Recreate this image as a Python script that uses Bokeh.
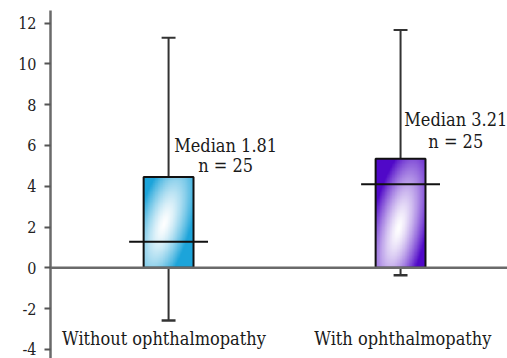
import numpy as np
from bokeh.plotting import figure
from bokeh.models import Span, FixedTicker, ColumnDataSource
from bokeh.core.properties import value
from bokeh.embed import file_html
from bokeh.resources import INLINE

# ---- data ----
groups = ["Without ophthalmopathy", "With ophthalmopathy"]
group_x = [1, 2]
lower_whisker = [-2.58, -0.37]
q1 = [0.0, 0.0]
median = [1.28, 4.10]
q3 = [4.45, 5.35]
upper_whisker = [11.28, 11.66]
median_labels = ["Median 1.81", "Median 3.21"]
n_labels = ["n = 25", "n = 25"]
y_ticks = [-4, -2, 0, 2, 4, 6, 8, 10, 12]

# ---- styling / layout constants ----
FONT = "DejaVu Serif Condensed"
box_w = 0.215
med_w = 0.34
cap_w = 0.06
base_colors = [(28, 164, 218), (80, 8, 200)]
# gradient blob: (center u, center v, major radius, minor radius)
grad_params = [(0.40, 0.48, 0.95, 0.48), (0.45, 0.36, 0.95, 0.50)]
label_dx = [0.246, 0.238]
median_label_y = [5.99, 7.28]
n_label_y = [5.01, 6.21]
cat_dx = [-0.02, 0.01]
cat_y = -3.45

p = figure(width=507, height=358, output_backend="svg", toolbar_location=None,
           x_range=(0.491, 2.461), y_range=(-4.45, 12.62),
           min_border_left=50, min_border_right=0, min_border_top=10, min_border_bottom=0)
p.xaxis.visible = False
p.grid.visible = False
p.outline_line_color = None
p.background_fill_color = "white"

ax = p.yaxis[0]
ax.ticker = FixedTicker(ticks=y_ticks)
ax.major_label_overrides = {t: str(t) for t in y_ticks}
ax.axis_line_color = "#6a6a6a"
ax.axis_line_width = 2.5
ax.major_tick_line_color = "#555555"
ax.major_tick_line_width = 2
ax.major_tick_out = 6
ax.major_tick_in = 0
ax.minor_tick_line_color = None
ax.major_label_standoff = 8
ax.major_label_text_font = FONT
ax.major_label_text_font_size = "16px"
ax.major_label_text_color = "#222222"

p.add_layout(Span(location=0, dimension="width", line_color="#6a6a6a", line_width=2.5))

# gradient fills
ny, nx = 140, 70
u = np.linspace(0, 1, nx)[None, :]
v = np.linspace(0, 1, ny)[:, None]
e1 = np.array([-0.588, -0.809])
e2 = np.array([0.809, -0.588])
for i in range(2):
    cu, cv, r1, r2 = grad_params[i]
    du, dv = u - cu, v - cv
    p1 = du * e1[0] + dv * e1[1]
    p2 = du * e2[0] + dv * e2[1]
    a = np.clip(np.sqrt((p1 / r1) ** 2 + (p2 / r2) ** 2), 0, 1) ** 1.4
    col = base_colors[i]
    img = np.empty((ny, nx), dtype=np.uint32)
    view = img.view(dtype=np.uint8).reshape((ny, nx, 4))
    for ch in range(3):
        view[:, :, ch] = (255 * (1 - a) + col[ch] * a).astype(np.uint8)
    view[:, :, 3] = 255
    p.image_rgba(image=[img], x=group_x[i] - box_w / 2, y=q1[i], dw=box_w, dh=q3[i] - q1[i])

src = ColumnDataSource(dict(x=group_x, lo=lower_whisker, q1=q1, med=median, q3=q3, hi=upper_whisker,
                            mid=[(a + b) / 2 for a, b in zip(q1, q3)], h=[b - a for a, b in zip(q1, q3)]))

p.segment(x0="x", y0="q3", x1="x", y1="hi", source=src, line_color="#333333", line_width=2)
p.segment(x0="x", y0="q1", x1="x", y1="lo", source=src, line_color="#333333", line_width=2)
xs = np.array(group_x, dtype=float)
p.segment(x0=xs - cap_w / 2, y0=upper_whisker, x1=xs + cap_w / 2, y1=upper_whisker, line_color="#333333", line_width=2)
p.segment(x0=xs - cap_w / 2, y0=lower_whisker, x1=xs + cap_w / 2, y1=lower_whisker, line_color="#333333", line_width=2.5)

p.rect(x="x", y="mid", width=box_w, height="h", source=src, fill_alpha=0, line_color="#111111", line_width=2)
p.segment(x0=xs - med_w / 2, y0=median, x1=xs + med_w / 2, y1=median, line_color="#111111", line_width=2)

p.text(x=xs + np.array(label_dx), y=median_label_y, text=median_labels, text_font=value(FONT),
       text_font_size="18px", text_align="center", text_baseline="middle", text_color="#1a1a1a")
p.text(x=xs + np.array(label_dx), y=n_label_y, text=n_labels, text_font=value(FONT),
       text_font_size="18px", text_align="center", text_baseline="middle", text_color="#1a1a1a")
p.text(x=xs + np.array(cat_dx), y=[cat_y, cat_y], text=groups, text_font=value(FONT),
       text_font_size="18px", text_align="center", text_baseline="middle", text_color="#1a1a1a")

open("out.html", "w").write(file_html(p, INLINE))
